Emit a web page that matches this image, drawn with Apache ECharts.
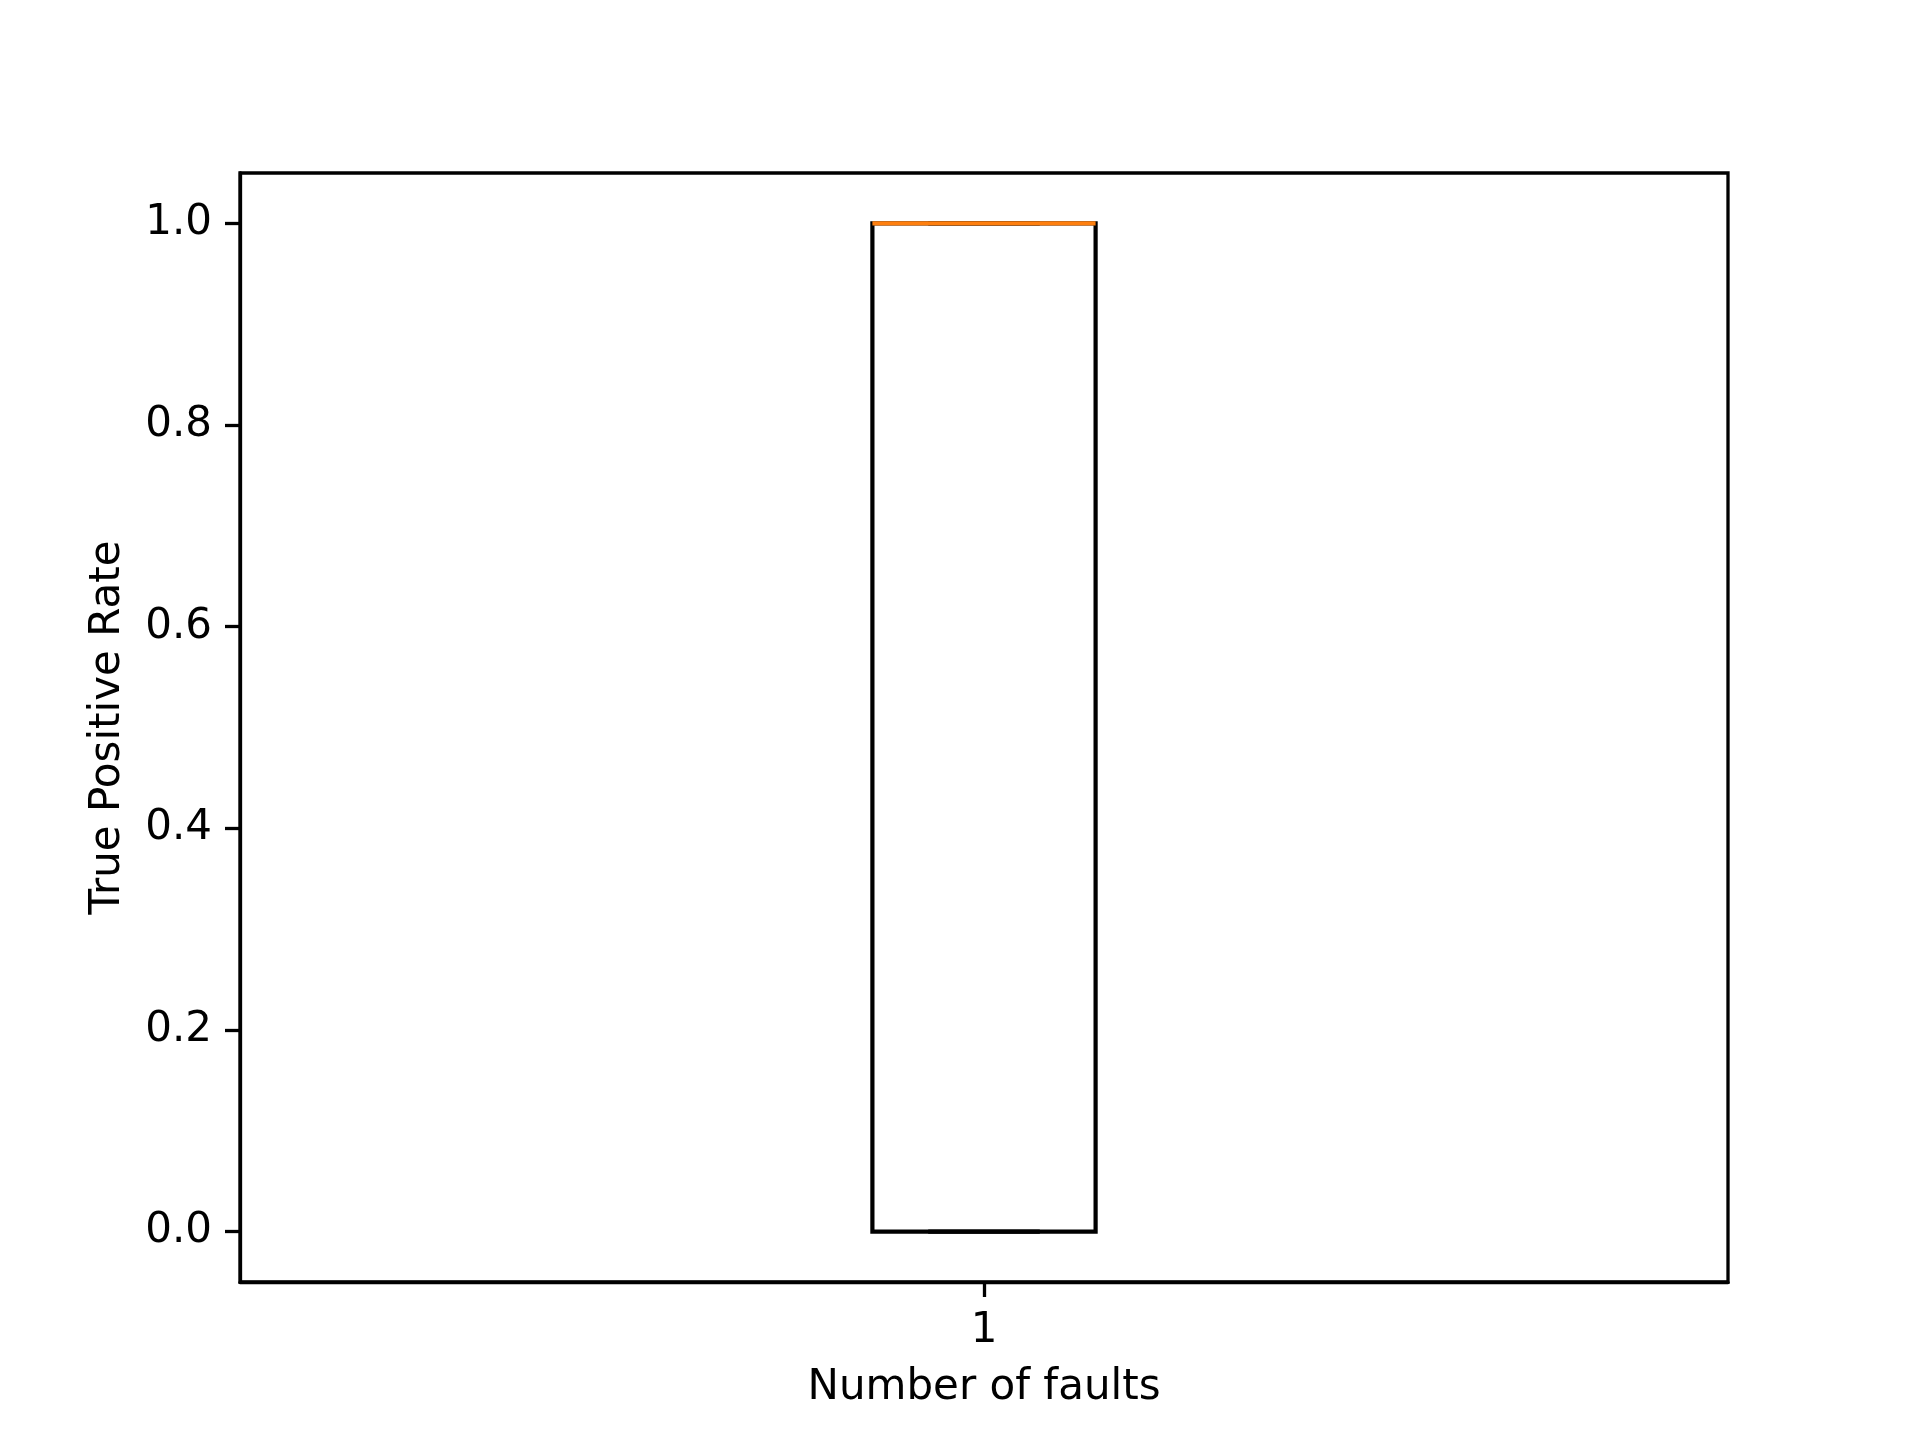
<!DOCTYPE html>
<html>
<head>
    <meta charset="utf-8">
    <title>True Positive Rate</title>
    <script src="https://cdn.jsdelivr.net/npm/echarts@6/dist/echarts.min.js"></script>
    <style>
        html, body { margin: 0; padding: 0; background: #fff; }
        #chart1 { width: 1920px; height: 1440px; }
    </style>
</head>
<body>
<div id="chart1"></div>
<script>
    // box plot data: [min, q1, median, q3, max]
    var categories = ['1'];
    var boxData = [[0, 0, 1, 1, 1]];
    var yTicks = [0.0, 0.2, 0.4, 0.6, 0.8, 1.0];

    var font = 'DejaVu Sans';

    var myChart1 = echarts.init(document.getElementById('chart1'));
    myChart1.setOption({
        animation: false,
        backgroundColor: '#ffffff',
        grid: {left: 240, right: 192, top: 173, bottom: 158},
        xAxis: {
            type: 'category',
            data: categories,
            name: 'Number of faults',
            nameLocation: 'middle',
            nameGap: 85,
            nameTextStyle: {fontFamily: font, fontSize: 42, color: '#000'},
            axisLine: {show: true, onZero: false, lineStyle: {color: '#000', width: 3.3}},
            axisTick: {show: true, alignWithLabel: true, length: 15, lineStyle: {color: '#000', width: 3.3}},
            axisLabel: {fontFamily: font, fontSize: 42, color: '#000', margin: 28},
            splitLine: {show: false}
        },
        yAxis: {
            type: 'value',
            min: -0.05,
            max: 1.05,
            name: 'True Positive Rate',
            nameLocation: 'middle',
            nameGap: 111,
            nameTextStyle: {fontFamily: font, fontSize: 42, color: '#000'},
            axisLine: {show: true, onZero: false, lineStyle: {color: '#000', width: 3.3}},
            axisTick: {show: true, length: 15, lineStyle: {color: '#000', width: 3.3},
                customValues: yTicks},
            axisLabel: {fontFamily: font, fontSize: 42, color: '#000', margin: 28,
                customValues: yTicks,
                formatter: function (v) { return v.toFixed(1); }},
            splitLine: {show: false}
        },
        series: [
            {
                type: 'custom',
                data: boxData.map(function (d, i) { return [i].concat(d); }),
                renderItem: function (params, api) {
                    var x = api.value(0);
                    var pMin = api.coord([x, api.value(1)]);
                    var pQ1 = api.coord([x, api.value(2)]);
                    var pMed = api.coord([x, api.value(3)]);
                    var pQ3 = api.coord([x, api.value(4)]);
                    var pMax = api.coord([x, api.value(5)]);
                    var band = api.size([1, 0])[0];
                    var w = band * 0.15;
                    var cx = pQ1[0];
                    var lw = 4.2;
                    var black = {stroke: '#000', lineWidth: lw, fill: null};
                    return {
                        type: 'group',
                        children: [
                            {type: 'line', shape: {x1: cx, y1: pQ1[1], x2: cx, y2: pMin[1]}, style: black},
                            {type: 'line', shape: {x1: cx, y1: pQ3[1], x2: cx, y2: pMax[1]}, style: black},
                            {type: 'line', shape: {x1: cx - w / 4, y1: pMin[1], x2: cx + w / 4, y2: pMin[1]}, style: black},
                            {type: 'line', shape: {x1: cx - w / 4, y1: pMax[1], x2: cx + w / 4, y2: pMax[1]}, style: black},
                            {type: 'rect', shape: {x: cx - w / 2, y: pQ3[1], width: w, height: pQ1[1] - pQ3[1]}, style: black},
                            {type: 'line', shape: {x1: cx - w / 2, y1: pMed[1], x2: cx + w / 2, y2: pMed[1]},
                                style: {stroke: '#ff7f0e', lineWidth: lw}}
                        ]
                    };
                }
            }
        ]
    });

    // top and right spines
    var g = myChart1.getModel().getComponent('grid').coordinateSystem.getRect();
    myChart1.setOption({
        graphic: [{
            type: 'rect',
            shape: {x: g.x, y: g.y, width: g.width, height: g.height},
            style: {stroke: '#000', lineWidth: 3.3, fill: null},
            silent: true,
            z: 10
        }]
    });
</script>
</body>
</html>
